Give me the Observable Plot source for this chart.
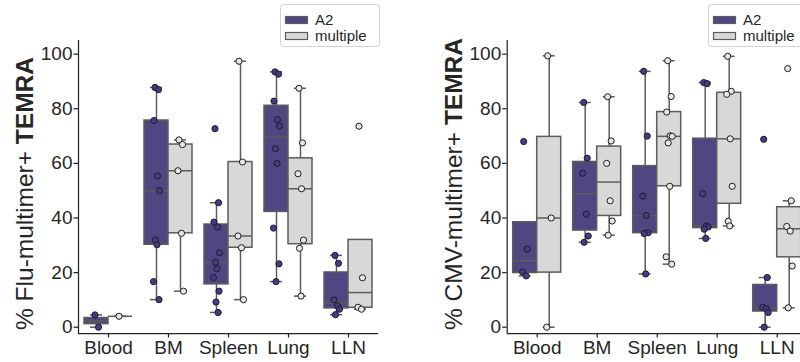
<!DOCTYPE html>
<html>
<head>
<meta charset="utf-8">
<script src="https://cdn.jsdelivr.net/npm/d3@7"></script>
<script src="https://cdn.jsdelivr.net/npm/@observablehq/plot@0.6"></script>
<style>
  html, body { margin: 0; padding: 0; background: #fff; }
  #wrap { position: relative; width: 800px; height: 362px; overflow: hidden; font-family: "Liberation Sans", Arial, sans-serif; }
  .panel { position: absolute; top: 0; }
  .overlay { position: absolute; left: 0; top: 0; pointer-events: none; }
</style>
</head>
<body>
<div id="wrap"></div>
<script>
// ---------- data ----------
const categories = ["Blood", "BM", "Spleen", "Lung", "LLN"];
const groups = ["A2", "multiple"];
const yTicks = [0, 20, 40, 60, 80, 100];

// % Flu-multimer+ TEMRA, one list per category
const fluA2 = [
  [4.5, 0],
  [87.8, 87.0, 75.7, 55.4, 50.0, 32.0, 30.2, 16.7, 10.1],
  [72.7, 45.6, 38.5, 36.7, 27.3, 23.8, 21.4, 18.2, 13.2, 9.2, 5.4],
  [93.5, 92.7, 82.8, 76.0, 73.7, 65.4, 60.0, 36.3, 23.2, 16.7],
  [26.3, 23.4, 10.0, 7.8, 6.6, 4.6]
];
const fluMultiple = [
  [4.0],
  [68.6, 66.9, 57.3, 34.4, 13.2],
  [97.4, 60.5, 33.4, 29.1, 10.1],
  [87.5, 67.5, 56.2, 50.7, 31.9, 28.9, 11.4],
  [73.6, 18.1, 7.3, 6.6]
];
// % CMV-multimer+ TEMRA
const cmvA2 = [
  [68.0, 28.6, 20.2, 18.8],
  [82.3, 61.9, 56.4, 41.4, 33.4, 31.1],
  [93.7, 70.0, 48.0, 40.9, 34.6, 34.3, 19.5],
  [89.6, 89.2, 48.9, 37.1, 36.7, 35.9, 32.5],
  [68.8, 18.2, 7.3, 6.8, 5.4, 0]
];
const cmvMultiple = [
  [99.4, 40.0, 0],
  [84.4, 68.2, 60.0, 46.3, 38.9, 33.7],
  [97.6, 84.5, 78.8, 70.1, 69.9, 67.5, 51.6, 25.8, 23.1],
  [99.2, 86.4, 85.3, 69.0, 51.6, 38.8, 37.1],
  [94.7, 46.3, 36.9, 35.2, 22.4, 7.1]
];

// ---------- styling ----------
const boxFill = {A2: "#4f4781", multiple: "#d8d8d9"};
const dotFill = {A2: "#473a8c", multiple: "#e6e6e6"};
const edge = "#5c5c5c";
const ink = "#262626";
const font = "'Liberation Sans', Arial, Helvetica, sans-serif";
const jitterPx = [-1.5, 2, -2.5, 1, 3, -1, 0.5, -3, 2.5, -0.5, 1.5];

// matplotlib-style box statistics
function stats(vals) {
  const s = vals.slice().sort(d3.ascending);
  const q1 = d3.quantileSorted(s, 0.25), med = d3.quantileSorted(s, 0.5), q3 = d3.quantileSorted(s, 0.75);
  const iqr = q3 - q1;
  let hi = d3.max(s.filter(v => v <= q3 + 1.5 * iqr));
  let lo = d3.min(s.filter(v => v >= q1 - 1.5 * iqr));
  if (hi == null || hi < q3) hi = q3;
  if (lo == null || lo > q1) lo = q1;
  return {q1, med, q3, hi, lo};
}

function panel({a2, multiple, labelPlain, width, marginLeft, marginRight}) {
  const boxes = [], points = [];
  [a2, multiple].forEach((series, g) => {
    series.forEach((vals, i) => {
      const cx = i + (g === 0 ? -0.2 : 0.2);
      boxes.push({group: groups[g], cx, ...stats(vals)});
      vals.forEach((v, k) => points.push({group: groups[g], x: cx + jitterPx[k % jitterPx.length] / 60, y: v}));
    });
  });
  const yMin = -2.3, yMax = 105;
  const chart = Plot.plot({
    width, height: 362,
    marginLeft, marginRight, marginTop: 40, marginBottom: 29,
    style: {fontFamily: font, fontSize: "19px", color: ink, background: "transparent", overflow: "visible"},
    x: {domain: [-0.5, 4.5]},
    y: {domain: [yMin, yMax]},
    marks: [
      Plot.ruleX(boxes, {x: "cx", y1: "q3", y2: "hi", stroke: edge, strokeWidth: 1.5}),
      Plot.ruleX(boxes, {x: "cx", y1: "lo", y2: "q1", stroke: edge, strokeWidth: 1.5}),
      Plot.ruleY(boxes, {y: "hi", x1: d => d.cx - 0.1, x2: d => d.cx + 0.1, stroke: edge, strokeWidth: 1.5}),
      Plot.ruleY(boxes, {y: "lo", x1: d => d.cx - 0.1, x2: d => d.cx + 0.1, stroke: edge, strokeWidth: 1.5}),
      Plot.rect(boxes, {x1: d => d.cx - 0.2, x2: d => d.cx + 0.2, y1: "q1", y2: "q3", fill: d => boxFill[d.group], stroke: edge, strokeWidth: 1.5}),
      Plot.ruleY(boxes, {y: "med", x1: d => d.cx - 0.2, x2: d => d.cx + 0.2, stroke: edge, strokeWidth: 1.5}),
      Plot.dot(points, {x: "x", y: "y", r: 3.1, fill: d => dotFill[d.group], stroke: "#1e1e1e", strokeWidth: 1}),
      Plot.axisX({ticks: [0, 1, 2, 3, 4], tickFormat: i => categories[i], tickSize: 4.5, tickPadding: 2.5, label: null, strokeWidth: 1.25}),
      Plot.axisY({ticks: yTicks, tickSize: 4.5, tickPadding: 1.5, label: null, strokeWidth: 1.25}),
      Plot.ruleX([-0.5], {stroke: ink, strokeWidth: 1.25}),
      Plot.ruleY([yMin], {stroke: ink, strokeWidth: 1.25})
    ]
  });
  // y-axis title with a bold part
  const t = d3.select(chart).append("text")
    .attr("transform", `translate(${marginLeft - 45},330) rotate(-90)`)
    .attr("text-anchor", "start")
    .attr("fill", ink)
    .style("font-family", font)
    .style("font-size", "24.5px");
  t.append("tspan").text(labelPlain);
  t.append("tspan").attr("font-weight", "bold").text("TEMRA");
  return chart;
}

function legend(left) {
  const svg = d3.create("svg").attr("class", "overlay").attr("width", 800).attr("height", 362);
  svg.append("rect").attr("x", left + 0.5).attr("y", 4.5).attr("width", 99).attr("height", 42).attr("rx", 3)
    .attr("fill", "rgba(255,255,255,0.85)").attr("stroke", "#d2d2d2");
  groups.forEach((g, i) => {
    svg.append("rect").attr("x", left + 5.5).attr("y", 16.5 + i * 16).attr("width", 22).attr("height", 7)
      .attr("fill", boxFill[g]).attr("stroke", edge).attr("stroke-width", 1.2);
    svg.append("text").attr("x", left + 35).attr("y", 24.5 + i * 16.5).text(g)
      .attr("fill", ink).style("font-family", font).style("font-size", "15px");
  });
  return svg.node();
}

const wrap = document.getElementById("wrap");
const left = panel({a2: fluA2, multiple: fluMultiple, labelPlain: "% Flu-multimer+ ", width: 400, marginLeft: 78, marginRight: 22});
left.classList.add("panel"); left.style.left = "0px";
const right = panel({a2: cmvA2, multiple: cmvMultiple, labelPlain: "% CMV-multimer+ ", width: 420, marginLeft: 106.7, marginRight: 13.3});
right.classList.add("panel"); right.style.left = "400px";
wrap.appendChild(left);
wrap.appendChild(right);
wrap.appendChild(legend(280));
wrap.appendChild(legend(708));
</script>
</body>
</html>
